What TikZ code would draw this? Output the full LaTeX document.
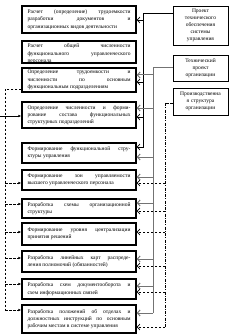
\documentclass[tikz,border=0pt]{standalone}
\usepackage{fontspec}
\setmainfont{Liberation Serif}
\usepackage{tikz}
\usetikzlibrary{arrows.meta}

\tikzset{
  stage/.style={draw, line width=1.35pt, minimum width=114pt, text width=103pt, inner sep=0pt,
    align=justify, font=\fontsize{5.5}{7.3}\selectfont,
    execute at begin node={\tolerance=9999 \hyphenpenalty=10000 }},
  proj/.style={draw, line width=0.6pt, minimum width=55pt, text width=54pt, inner sep=0pt,
    align=center, font=\fontsize{5.5}{7}\selectfont},
  tip/.style={-{Straight Barb[length=2.8pt,width=6pt]}, line width=0.7pt},
  lefttip/.style={-{Latex[length=3pt,width=2.6pt]}, line width=0.7pt},
  graybus/.style={draw=black!55, line width=1pt},
  dashbus/.style={dash pattern=on 2.5pt off 1.5pt, line width=0.7pt},
  dotbus/.style={dash pattern=on 3pt off 1.4pt on 0.7pt off 1.4pt, line width=0.7pt},
}

\begin{document}
\begin{tikzpicture}[x=1pt,y=-1pt]
    \useasboundingbox (0,0) rectangle (231,334);

    \node[stage, minimum height=27pt] (b1) at (79,19.5) {Расчет (определение) трудоемкости\linebreak разработки документов и\linebreak организационных видов деятельности};
    \node[stage, minimum height=22pt, text height=4pt, text depth=12pt] (b2) at (79,52) {Расчет общей численности\linebreak функционального управленческого\linebreak персонала};
    \node[stage, minimum height=24pt] (b3) at (79,80) {Определение трудоемкости и\linebreak численности по основным\linebreak функциональным подразделениям};
    \node[stage, minimum height=26pt] (b4) at (79,115) {Определение численности и форми-\linebreak рование состава функциональных\linebreak структурных подразделений};
    \node[stage, minimum height=20pt] (b5) at (79,153) {Формирование функциональной стру-\linebreak ктуры управления};
    \node[stage, minimum height=20pt] (b6) at (79,180) {Формирование зон управляемости\linebreak высшего управленческого персонала};
    \node[stage, minimum height=19pt] (b7) at (79,208.5) {Разработка схемы организационной\linebreak структуры};
    \node[stage, minimum height=22pt] (b8) at (79,234) {Формирование уровня централизации\linebreak принятия решений};
    \node[stage, minimum height=21pt] (b9) at (79,261.5) {Разработка линейных карт распреде-\linebreak ления полномочий (обязанностей)};
    \node[stage, minimum height=20pt] (b10) at (79,289) {Разработка схем документооборота и\linebreak схем информационных связей};
    \node[stage, minimum height=28pt] (b11) at (79,319) {Разработка положений об отделах и\linebreak должностных инструкций по основным\linebreak рабочим местам в системе управления};

    \node[proj, minimum height=39pt] (r1) at (200.5,25.5) {Проект\\технического\\обеспечения\\системы\\управления};
    \node[proj, minimum height=26pt] (r2) at (200.5,68) {Технический\\проект\\организации};
    \node[proj, minimum height=27pt] (r3) at (200.5,101.5) {Производственна\\я структура\\организации};

    \coordinate (ka) at (143,13);
    \coordinate (kb) at (153,68);
    \coordinate (kc) at (165,103);
    \coordinate (kd) at (5,89);
    \coordinate (ke) at (0,116);

    \draw[tip] (r1.west |- ka) -- (ka) |- (b5.east |- 0,147);
    \foreach \b/\y in {b1/20,b3/82,b4/117}
        \draw[tip] (ka |- 0,\y) -- (\b.east |- 0,\y);

    \draw[graybus] (r2.west) -- (kb) -- (kb |- 0,313);
    \foreach \b/\y in {b3/75,b4/108,b5/157,b6/177,b7/203,b9/259,b10/286,b11/313}
        \draw[tip, graybus] (kb |- 0,\y) -- (\b.east |- 0,\y);

    \draw[dashbus] (r3.west |- kc) -- (kc);
    \draw[dotbus] (kc) -- (kc |- 0,327);
    \foreach \b/\y in {b6/183,b7/211,b8/232,b9/266,b10/292,b11/327}
        \draw[tip, dashbus] (kc |- 0,\y) -- (\b.east |- 0,\y);

    \draw[dashbus] (b3.west |- kd) -- (kd) -- (kd |- 0,310);
    \foreach \b/\y in {b6/183,b7/204,b8/232,b9/258,b10/284,b11/310}
        \draw[lefttip, dashbus] (kd |- 0,\y) -- (\b.west |- 0,\y);
    \draw[lefttip] (ke) -- (b4.west |- ke);
\end{tikzpicture}
\end{document}
